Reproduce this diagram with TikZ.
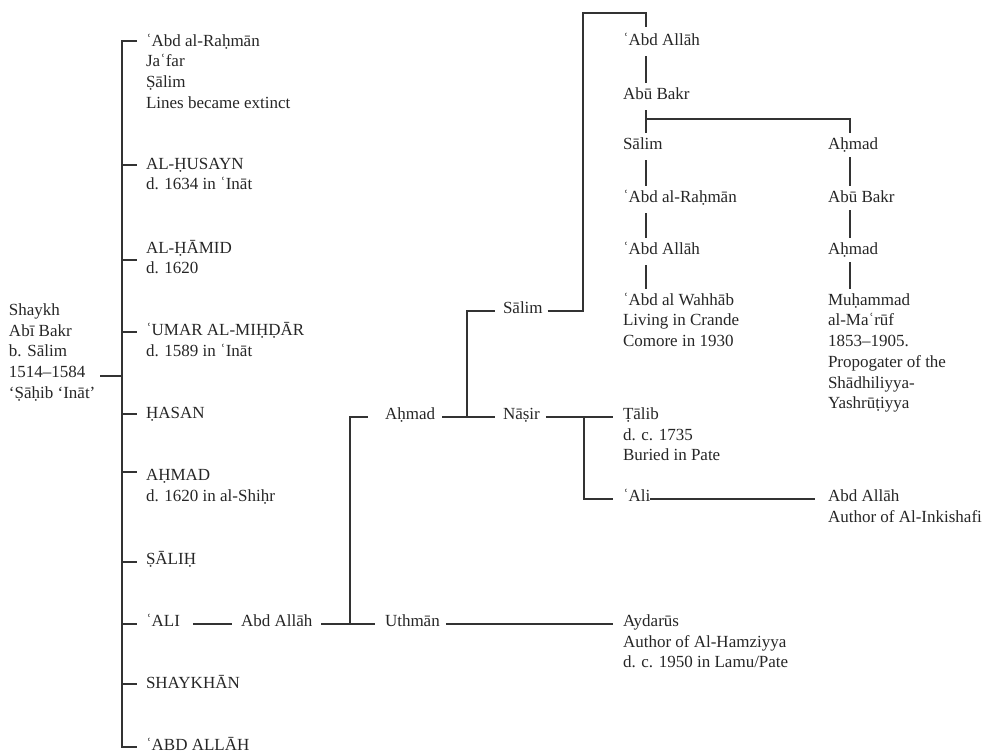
\documentclass[tikz,border=0pt]{standalone}
\usepackage{fontspec}
\setmainfont{Liberation Serif}
\usetikzlibrary{calc}
\newcommand\stk[1]{\begin{tabular}[t]{@{}l@{}}#1\end{tabular}}
\begin{document}
\begin{tikzpicture}[x=1pt,y=-1pt,
  lbl/.style={anchor=mid west,inner sep=0pt,outer sep=0pt,font=\fontsize{17}{20.7}\selectfont,text=black!85},
  ln/.style={line width=1.1pt,draw=black!80}]
\useasboundingbox (0,0) rectangle (985,755);
% root and first generation
\node[lbl] (root) at (9,313) {\stk{Shaykh\\Abī Bakr\\b. Sālim\\1514–1584\\‘Ṣāḥib ‘Ināt’}};
\node[lbl] (c1) at (146,44) {\stk{ʿAbd al-Raḥmān\\Jaʿfar\\Ṣālim\\Lines became extinct}};
\node[lbl] (c2) at (146,167) {\stk{AL-ḤUSAYN\\d. 1634 in ʿInāt}};
\node[lbl] (c3) at (146,251) {\stk{AL-ḤĀMID\\d. 1620}};
\node[lbl] (c4) at (146,333) {\stk{ʿUMAR AL-MIḤḌĀR\\d. 1589 in ʿInāt}};
\node[lbl] (c5) at (146,416) {ḤASAN};
\node[lbl] (c6) at (146,478) {\stk{AḤMAD\\d. 1620 in al-Shiḥr}};
\node[lbl] (c7) at (146,562) {ṢĀLIḤ};
\node[lbl] (c8) at (146,624) {ʿALI};
\node[lbl] (c9) at (146,686) {SHAYKHĀN};
\node[lbl] (c10) at (146,748) {ʿABD ALLĀH};
\coordinate (tt) at (122,41);
\coordinate (tb) at (122,747);
\coordinate (rj) at (122,376);
\draw[ln] ($(root.east |- rj)+(5,0)$) -- (rj);
\draw[ln] ($(tt)+(15,0)$) -- (tt) -- (tb) -- ($(tb)+(15,0)$);
\foreach \n/\d in {c2/-2,c3/9,c4/-1,c5/-2,c6/-6,c7/0,c8/0,c9/-2}
  \draw[ln] ($(tt |- \n.mid west)+(0,\d)$) -- ++(15,0);
% middle
\node[lbl] (m1) at (241,624) {Abd Allāh};
\node[lbl] (m2) at (385,417) {Aḥmad};
\node[lbl] (m5) at (385,624) {Uthmān};
\node[lbl] (m3) at (503,311) {Sālim};
\node[lbl] (m4) at (503,417) {Nāṣir};
\draw[ln] ($(c8.mid east)+(13,0)$) -- ($(m1.mid west)+(-9,0)$);
\coordinate (jA) at (350,624);
\draw[ln] ($(m1.mid east)+(9,0)$) -- ($(m5.mid west)+(-10,0)$);
\draw[ln] (jA) |- ($(m2.mid west)+(-17,0)$);
\coordinate (jB) at (467,417);
\draw[ln] ($(m2.mid east)+(7,0)$) -- ($(m4.mid west)+(-8,0)$);
\draw[ln] (jB) |- ($(m3.mid west)+(-8,0)$);
% right part
\node[lbl] (r1) at (623,624) {\stk{Aydarūs\\Author of Al-Hamziyya\\d. c. 1950 in Lamu/Pate}};
\node[lbl] (r2) at (623,417) {\stk{Ṭālib\\d. c. 1735\\Buried in Pate}};
\node[lbl] (r3) at (623,499) {ʿAli};
\node[lbl] (r4) at (828,499) {\stk{Abd Allāh\\Author of Al-Inkishafi}};
\draw[ln] ($(m5.mid east)+(6,0)$) -- ($(r1.mid west)+(-10,0)$);
\draw[ln] ($(m4.mid east)+(6,0)$) -- ($(r2.mid west)+(-10,0)$);
\coordinate (jD) at (584,417);
\draw[ln] (jD) |- ($(r3.mid west)+(-10,0)$);
\draw[ln] (r3.mid east) -- ($(r4.mid west |- r3.mid east)+(-13,0)$);
% top columns
\node[lbl] (t1) at (623,43) {ʿAbd Allāh};
\node[lbl] (t2) at (623,97) {Abū Bakr};
\node[lbl] (t3) at (623,147) {Sālim};
\node[lbl] (t4) at (623,200) {ʿAbd al-Raḥmān};
\node[lbl] (t5) at (623,252) {ʿAbd Allāh};
\node[lbl] (t6) at (623,303) {\stk{ʿAbd al Wahhāb\\Living in Crande\\Comore in 1930}};
\node[lbl] (u1) at (828,147) {Aḥmad};
\node[lbl] (u2) at (828,200) {Abū Bakr};
\node[lbl] (u3) at (828,252) {Aḥmad};
\node[lbl] (u4) at (828,303) {\stk{Muḥammad\\al-Maʿrūf\\1853–1905.\\Propogater of the\\Shādhiliyya-\\Yashrūṭiyya}};
\coordinate (jC) at (583,13);
\draw[ln] ($(m3.mid east)+(5,0)$) -| (jC) -| ($(t1.mid west)+(23,-16)$);
\foreach \a/\b in {t1/t2,t2/t3,t3/t4,t4/t5,t5/t6}
  \draw[ln] ($(\a.mid west)+(23,13)$) -- ($(\b.mid west)+(23,-14)$);
\coordinate (jE) at (646,119);
\draw[ln] (jE) -| ($(u1.mid west)+(22,-14)$);
\foreach \a/\b in {u1/u2,u2/u3,u3/u4}
  \draw[ln] ($(\a.mid west)+(22,10)$) -- ($(\b.mid west)+(22,-14)$);
\end{tikzpicture}
\end{document}
